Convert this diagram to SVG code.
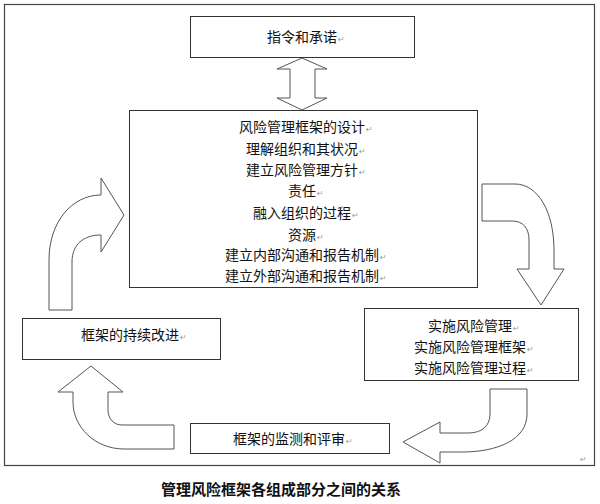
<svg xmlns="http://www.w3.org/2000/svg" width="600" height="504" viewBox="0 0 600 504">
<style>
.box{fill:#fff;stroke:#333;stroke-width:1}
.arr{fill:#fff;stroke:#555;stroke-width:1;stroke-linejoin:miter}
.t{font-family:"Noto Sans CJK SC","Noto Sans",sans-serif;font-size:14px;fill:#111;text-anchor:middle}
.p{font-family:"DejaVu Sans",sans-serif;font-size:8px;fill:#999}
.cap{font-family:"Noto Sans CJK SC","Noto Sans",sans-serif;font-size:15px;font-weight:bold;fill:#111;text-anchor:middle}
</style>
<rect x="0" y="0" width="600" height="504" fill="#fff"/>
<rect id="frame" x="4.5" y="4.5" width="590" height="461" fill="#fff" stroke="#444" stroke-width="1.2"/>
<g id="connectors">
<path class="arr" d="M302,58 L327,69 L315,69 L315,98 L327,98 L302,110 L277,98 L290,98 L290,69 L277,69 Z"/>
<path class="arr" d="M49,310 L49,260 C49,222 72,195 101,195 L101,178 L124,215 L101,252 L101,235 C84,235 72,244 72,262 L72,310 Z"/>
<path class="arr" d="M482,184 L515,184 C538,184 554,212 554,250 L554,269 L564,269 L541,305 L517,269 L529,269 L529,240 C529,228 523,221 512,221 L482,221 Z"/>
<path class="arr" d="M490,389 L527,389 L527,414 C527,440 497,452 462,452 L440,452 L440,463 L403,442 L440,422 L440,433 L468,433 C482,433 490,426 490,414 Z"/>
<path class="arr" d="M174,449 L124,449 C95,449 73,427 73,402 L73,392 L58,392 L91,366 L123,392 L108,392 L108,410 C108,419 114,425 122,425 L174,425 Z"/>
</g>
<g id="n1">
<rect class="box" x="190.5" y="16.5" width="224" height="41"/>
<text class="t" x="302" y="42">指令和承诺</text><text class="p" x="338" y="42">↵</text>
</g>
<g id="n2">
<rect class="box" x="129.5" y="110.5" width="348" height="177"/>
<text class="t" x="302" y="132">风险管理框架的设计</text><text class="p" x="366" y="132">↵</text>
<text class="t" x="302" y="154">理解组织和其状况</text><text class="p" x="359" y="154">↵</text>
<text class="t" x="302" y="175">建立风险管理方针</text><text class="p" x="359" y="175">↵</text>
<text class="t" x="302" y="196">责任</text><text class="p" x="317" y="196">↵</text>
<text class="t" x="302" y="218">融入组织的过程</text><text class="p" x="352" y="218">↵</text>
<text class="t" x="302" y="240">资源</text><text class="p" x="317" y="240">↵</text>
<text class="t" x="302" y="260">建立内部沟通和报告机制</text><text class="p" x="380" y="260">↵</text>
<text class="t" x="302" y="281">建立外部沟通和报告机制</text><text class="p" x="380" y="281">↵</text>
</g>
<g id="n3">
<rect class="box" x="364.5" y="308.5" width="214" height="72"/>
<text class="t" x="470" y="331">实施风险管理</text><text class="p" x="513" y="331">↵</text>
<text class="t" x="470" y="352">实施风险管理框架</text><text class="p" x="527" y="352">↵</text>
<text class="t" x="470" y="373">实施风险管理过程</text><text class="p" x="527" y="373">↵</text>
</g>
<g id="n4">
<rect class="box" x="190.5" y="423.5" width="199" height="30"/>
<text class="t" x="289" y="444">框架的监测和评审</text><text class="p" x="346" y="444">↵</text>
</g>
<g id="n5">
<rect class="box" x="22.5" y="318.5" width="198" height="41"/>
<text class="t" x="130" y="340">框架的持续改进</text><text class="p" x="180" y="340">↵</text>
</g>
<text class="p" x="580" y="462">↵</text>
<text class="cap" x="281" y="495">管理风险框架各组成部分之间的关系</text>
</svg>
